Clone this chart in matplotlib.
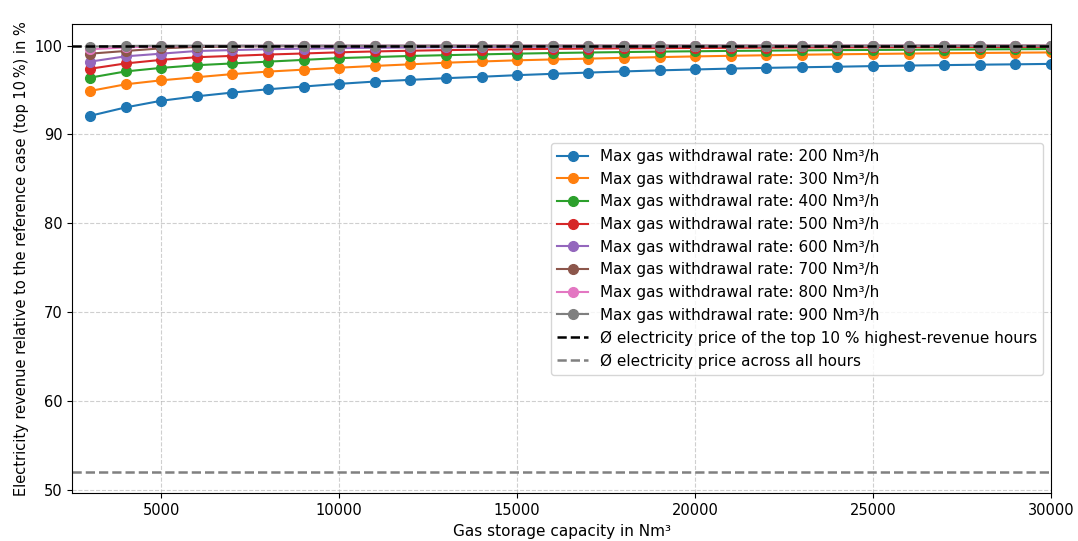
import matplotlib
matplotlib.use("Agg")
import matplotlib.pyplot as plt
import numpy as np

"""Data"""

capacity = np.arange(3000, 30001, 1000)  # Nm³

rev_200 = [92.1, 93.05, 93.8, 94.3, 94.72, 95.09, 95.4, 95.7, 95.96, 96.15,
           96.34, 96.5, 96.68, 96.83, 96.97, 97.1, 97.22, 97.32, 97.42, 97.5,
           97.57, 97.63, 97.7, 97.76, 97.81, 97.86, 97.9, 97.95]
rev_300 = [94.9, 95.65, 96.1, 96.45, 96.8, 97.08, 97.3, 97.52, 97.72, 97.9,
           98.08, 98.22, 98.35, 98.45, 98.54, 98.63, 98.71, 98.79, 98.86, 98.92,
           98.98, 99.03, 99.07, 99.11, 99.15, 99.18, 99.21, 99.24]
rev_400 = [96.4, 97.1, 97.5, 97.8, 98.0, 98.2, 98.4, 98.6, 98.72, 98.84,
           98.93, 99.02, 99.1, 99.17, 99.23, 99.28, 99.33, 99.37, 99.41, 99.44,
           99.47, 99.5, 99.52, 99.54, 99.56, 99.58, 99.6, 99.62]
rev_500 = [97.4, 98.0, 98.4, 98.7, 98.85, 99.0, 99.12, 99.25, 99.35, 99.43,
           99.5, 99.55, 99.6, 99.64, 99.67, 99.7, 99.72, 99.74, 99.76, 99.78,
           99.8, 99.81, 99.82, 99.83, 99.84, 99.85, 99.86, 99.87]
rev_600 = [98.2, 98.8, 99.1, 99.4, 99.5, 99.6, 99.66, 99.72, 99.76, 99.8,
           99.83, 99.85, 99.87, 99.89, 99.9, 99.91, 99.92, 99.93, 99.94, 99.94,
           99.95, 99.95, 99.96, 99.96, 99.96, 99.97, 99.97, 99.97]
rev_700 = [99.1, 99.4, 99.7, 99.85, 99.9, 99.93, 99.95, 99.96, 99.97, 99.97,
           99.98, 99.98, 99.98, 99.98, 99.99, 99.99, 99.99, 99.99, 99.99, 99.99,
           99.99, 99.99, 99.99, 99.99, 100.0, 100.0, 100.0, 100.0]
rev_800 = [99.6, 99.8, 99.92, 99.96, 99.98, 99.99, 99.99, 100.0, 100.0, 100.0,
           100.0, 100.0, 100.0, 100.0, 100.0, 100.0, 100.0, 100.0, 100.0, 100.0,
           100.0, 100.0, 100.0, 100.0, 100.0, 100.0, 100.0, 100.0]
rev_900 = [99.9, 99.97, 100.0, 100.0, 100.0, 100.0, 100.0, 100.0, 100.0, 100.0,
           100.0, 100.0, 100.0, 100.0, 100.0, 100.0, 100.0, 100.0, 100.0, 100.0,
           100.0, 100.0, 100.0, 100.0, 100.0, 100.0, 100.0, 100.0]

rates = [200, 300, 400, 500, 600, 700, 800, 900]
series = [rev_200, rev_300, rev_400, rev_500, rev_600, rev_700, rev_800, rev_900]

ref_top10 = 100.0
ref_all_hours = 52.0

"""Plot"""

fig, ax = plt.subplots(figsize=(10.78, 5.41), dpi=100)

for rate, values in zip(rates, series):
    ax.plot(capacity, values, marker='o', markersize=7,
            label=f'Max gas withdrawal rate: {rate} Nm³/h')

ax.axhline(ref_top10, color='black', linestyle='--', linewidth=1.8,
           label='Ø electricity price of the top 10 % highest-revenue hours')
ax.axhline(ref_all_hours, color='grey', linestyle='--', linewidth=1.8,
           label='Ø electricity price across all hours')

ax.set_xlim(2500, 30000)
ax.set_xlabel('Gas storage capacity in Nm³', fontsize=11)
ax.set_ylabel('Electricity revenue relative to the reference case (top 10\u2009%) in %',
              fontsize=10.5)
ax.tick_params(labelsize=10.5)
ax.grid(True, linestyle='--', alpha=0.6)
ax.legend(loc='center right', fontsize=11)

fig.subplots_adjust(left=0.067, right=0.975, top=0.955, bottom=0.088)
fig.savefig('out.png')
